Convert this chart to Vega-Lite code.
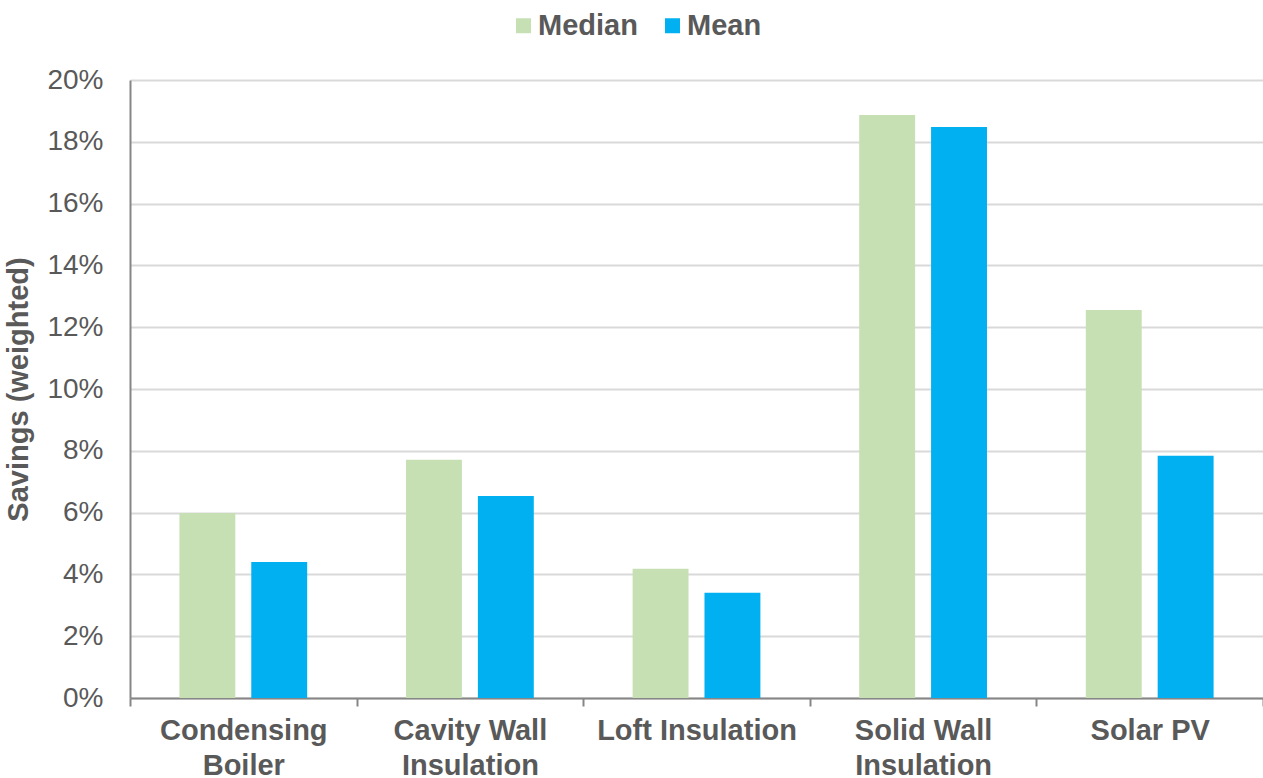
{
  "$schema": "https://vega.github.io/schema/vega-lite/v6.json",
  "width": 1133,
  "height": 618,
  "autosize": {"type": "none"},
  "padding": {"left": 130, "top": 80, "right": 0, "bottom": 80},
  "background": "white",
  "config": {
    "font": "Liberation Sans",
    "view": {"stroke": null}
  },
  "data": {
    "values": [
      {"measure": "Condensing Boiler", "stat": "Median", "value": 0.0599},
      {"measure": "Condensing Boiler", "stat": "Mean", "value": 0.0440},
      {"measure": "Cavity Wall Insulation", "stat": "Median", "value": 0.0771},
      {"measure": "Cavity Wall Insulation", "stat": "Mean", "value": 0.0654},
      {"measure": "Loft Insulation", "stat": "Median", "value": 0.0418},
      {"measure": "Loft Insulation", "stat": "Mean", "value": 0.0341},
      {"measure": "Solid Wall Insulation", "stat": "Median", "value": 0.1887},
      {"measure": "Solid Wall Insulation", "stat": "Mean", "value": 0.1848},
      {"measure": "Solar PV", "stat": "Median", "value": 0.1256},
      {"measure": "Solar PV", "stat": "Mean", "value": 0.0784}
    ]
  },
  "mark": {"type": "bar"},
  "encoding": {
    "x": {
      "field": "measure",
      "type": "nominal",
      "sort": null,
      "scale": {"paddingInner": 0, "paddingOuter": 0},
      "axis": {
        "title": null,
        "labelAngle": 0,
        "labelFont": "Liberation Sans",
        "labelFontSize": 29,
        "labelFontWeight": "bold",
        "labelColor": "#595959",
        "labelPadding": 10,
        "labelLineHeight": 35,
        "labelBaseline": "top",
        "labelLimit": 0,
        "labelExpr": "datum.label == 'Condensing Boiler' ? ['Condensing', 'Boiler'] : datum.label == 'Cavity Wall Insulation' ? ['Cavity Wall', 'Insulation'] : datum.label == 'Solid Wall Insulation' ? ['Solid Wall', 'Insulation'] : datum.label",
        "tickBand": "extent",
        "ticks": true,
        "tickSize": 8,
        "tickColor": "#868686",
        "tickWidth": 2,
        "domainColor": "#868686",
        "domainWidth": 2,
        "grid": false
      }
    },
    "xOffset": {
      "field": "stat",
      "type": "nominal",
      "sort": ["Median", "Mean"],
      "scale": {"paddingInner": 0.222, "paddingOuter": 0.6875}
    },
    "y": {
      "field": "value",
      "type": "quantitative",
      "scale": {"domain": [0, 0.2], "nice": false},
      "axis": {
        "title": "Savings (weighted)",
        "titleFont": "Liberation Sans",
        "titleFontSize": 29,
        "titleFontWeight": "bold",
        "titleColor": "#595959",
        "titlePadding": 13,
        "values": [0, 0.02, 0.04, 0.06, 0.08, 0.1, 0.12, 0.14, 0.16, 0.18, 0.2],
        "format": ".0%",
        "labelFont": "Liberation Sans",
        "labelFontSize": 28,
        "labelColor": "#595959",
        "labelPadding": 27,
        "ticks": false,
        "tickSize": 0,
        "domainColor": "#868686",
        "domainWidth": 2,
        "gridColor": "#d9d9d9",
        "gridWidth": 2
      }
    },
    "color": {
      "field": "stat",
      "type": "nominal",
      "sort": ["Median", "Mean"],
      "scale": {"domain": ["Median", "Mean"], "range": ["#c6e0b4", "#00b0f0"]},
      "legend": {
        "title": null,
        "orient": "none",
        "direction": "horizontal",
        "legendX": 379,
        "legendY": -69,
        "symbolType": "square",
        "symbolSize": 225,
        "symbolStrokeWidth": 0,
        "labelFont": "Liberation Sans",
        "labelFontSize": 29,
        "labelFontWeight": "bold",
        "labelColor": "#595959",
        "labelOffset": 0,
        "columnPadding": 20
      }
    }
  }
}
